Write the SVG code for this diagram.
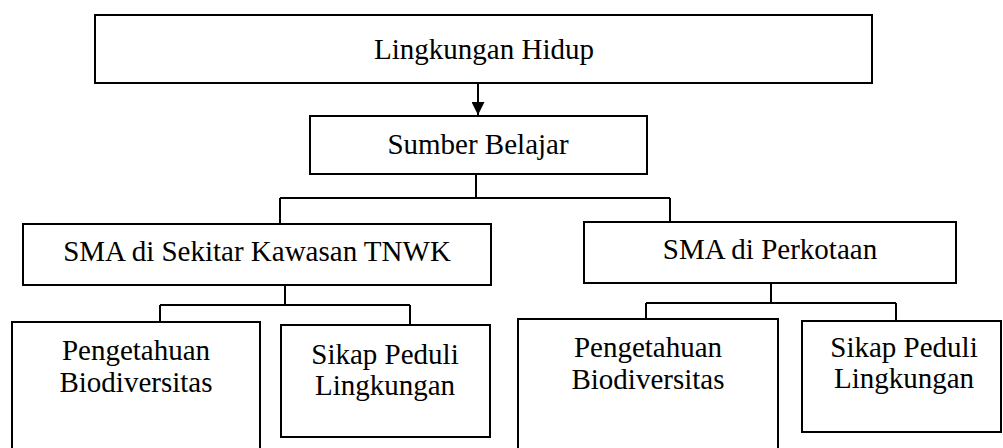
<svg xmlns="http://www.w3.org/2000/svg" width="1003" height="448" viewBox="0 0 1003 448">
<defs>
<style>
.box{fill:#fff;stroke:#000;stroke-width:2}
.t{font-family:'Liberation Serif','Times New Roman',Tinos,'DejaVu Serif',serif;font-size:29px;fill:#000;text-anchor:middle}
.c{fill:none;stroke:#000;stroke-width:2}
</style>
<marker id="arr" viewBox="0 0 10 10" refX="10" refY="5" markerWidth="6.5" markerHeight="6.5" orient="auto" markerUnits="strokeWidth">
<path d="M0,0 L10,5 L0,10 z" fill="#000"/>
</marker>
</defs>
<g id="connectors">
<line class="c" x1="478" y1="84" x2="478" y2="115" marker-end="url(#arr)"/>
<path class="c" d="M476,174 V198 M280,198 H670 M280,198 V224 M670,198 V222"/>
<path class="c" d="M285,285 V305 M160,305 H410 M160,305 V322 M410,305 V325"/>
<path class="c" d="M771,283 V303 M646,303 H896 M646,303 V319 M896,303 V321"/>
</g>
<g id="n-lingkungan">
<rect class="box" x="95" y="15" width="777" height="68"/>
<text class="t" font-family="Liberation Serif, serif" x="484" y="59">Lingkungan Hidup</text>
</g>
<g id="n-sumber">
<rect class="box" x="310" y="116" width="337" height="58"/>
<text class="t" font-family="Liberation Serif, serif" x="478" y="154">Sumber Belajar</text>
</g>
<g id="n-sma-tnwk">
<rect class="box" x="23" y="224" width="468" height="61"/>
<text class="t" font-family="Liberation Serif, serif" x="257" y="261">SMA di Sekitar Kawasan TNWK</text>
</g>
<g id="n-sma-kota">
<rect class="box" x="584" y="222" width="372" height="61"/>
<text class="t" font-family="Liberation Serif, serif" x="770" y="259">SMA di Perkotaan</text>
</g>
<g id="n-peng-1">
<rect class="box" x="12" y="322" width="248" height="140"/>
<text class="t" font-family="Liberation Serif, serif" x="136" y="360">Pengetahuan</text>
<text class="t" font-family="Liberation Serif, serif" x="136" y="392">Biodiversitas</text>
</g>
<g id="n-sikap-1">
<rect class="box" x="281" y="325" width="209" height="112"/>
<text class="t" font-family="Liberation Serif, serif" x="385" y="364">Sikap Peduli</text>
<text class="t" font-family="Liberation Serif, serif" x="385" y="395">Lingkungan</text>
</g>
<g id="n-peng-2">
<rect class="box" x="518" y="319" width="260" height="140"/>
<text class="t" font-family="Liberation Serif, serif" x="648" y="357">Pengetahuan</text>
<text class="t" font-family="Liberation Serif, serif" x="648" y="389">Biodiversitas</text>
</g>
<g id="n-sikap-2">
<rect class="box" x="802" y="321" width="199" height="111"/>
<text class="t" font-family="Liberation Serif, serif" x="904" y="357">Sikap Peduli</text>
<text class="t" font-family="Liberation Serif, serif" x="904" y="388">Lingkungan</text>
</g>
</svg>
